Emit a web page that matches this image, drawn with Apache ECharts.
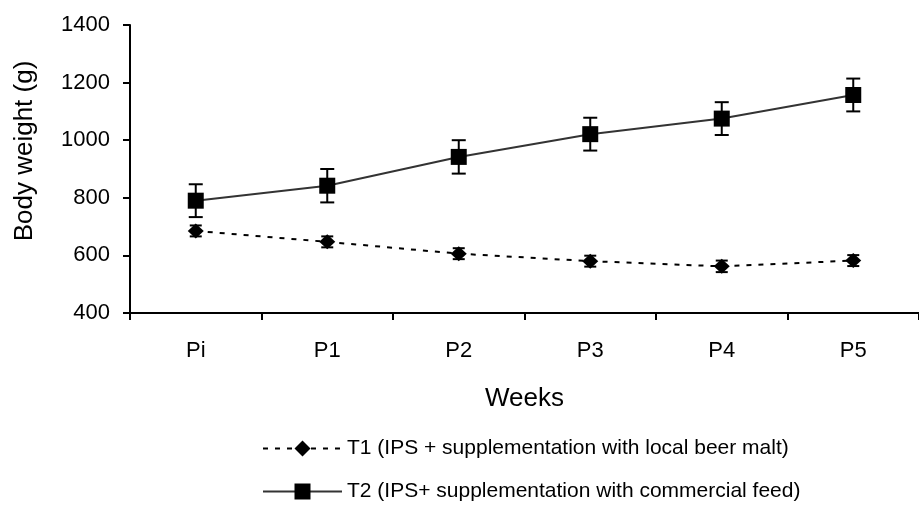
<!DOCTYPE html>
<html>
<head>
<meta charset="utf-8">
<script src="https://cdn.jsdelivr.net/npm/echarts@6/dist/echarts.min.js"></script>
<style>html,body{margin:0;padding:0;background:#fff}#c{width:919px;height:510px}</style>
</head>
<body>
<div id="c"></div>
<script>
var weeks = ['Pi', 'P1', 'P2', 'P3', 'P4', 'P5'];
var t1Name = 'T1 (IPS + supplementation with local beer malt)';
var t2Name = 'T2 (IPS+ supplementation with commercial feed)';
var t1Mean = [685, 647, 606, 580, 562, 582];
var t1Err = [19, 19, 19, 19, 20, 19];
var t2Mean = [790, 842, 942, 1021, 1075, 1157];
var t2Err = [57, 58, 58, 57, 57, 57];
var yTicks = [400, 600, 800, 1000, 1200, 1400];
var xTitle = 'Weeks';
var yTitle = 'Body weight (g)';

function errData(mean, err) {
  return mean.map(function (m, i) { return [i, m - err[i], m + err[i]]; });
}
function errRender(cap) {
  return function (params, api) {
    var x = api.value(0);
    var lo = api.coord([x, api.value(1)]);
    var hi = api.coord([x, api.value(2)]);
    var st = { stroke: '#000', lineWidth: 2 };
    return {
      type: 'group',
      children: [
        { type: 'line', shape: { x1: lo[0], y1: lo[1], x2: hi[0], y2: hi[1] }, style: st },
        { type: 'line', shape: { x1: lo[0] - cap, y1: lo[1], x2: lo[0] + cap, y2: lo[1] }, style: st },
        { type: 'line', shape: { x1: hi[0] - cap, y1: hi[1], x2: hi[0] + cap, y2: hi[1] }, style: st }
      ]
    };
  };
}

var chart = echarts.init(document.getElementById('c'), null, { renderer: 'canvas' });
var font = 'Liberation Sans, Arial, sans-serif';
function legendAt(name, top) {
  return {
    orient: 'horizontal',
    left: 262,
    top: top,
    itemWidth: 79,
    itemHeight: 20,
    padding: 0,
    textStyle: { fontSize: 21, color: '#000', fontFamily: font },
    data: [name]
  };
}
chart.setOption({
  animation: false,
  textStyle: { fontFamily: font },
  grid: { left: 130, right: -1, top: 25, bottom: 197 },
  graphic: [{
    type: 'text',
    x: 25,
    y: 151,
    rotation: Math.PI / 2,
    style: {
      text: yTitle,
      fontSize: 26,
      fontFamily: font,
      fill: '#000',
      align: 'center',
      verticalAlign: 'middle'
    }
  }],
  legend: [legendAt(t1Name, 438), legendAt(t2Name, 481)],
  xAxis: {
    type: 'category',
    data: weeks,
    boundaryGap: true,
    name: xTitle,
    nameLocation: 'middle',
    nameGap: 73,
    nameTextStyle: { fontSize: 26, color: '#000', fontFamily: font },
    axisLine: { lineStyle: { color: '#000', width: 2 } },
    axisTick: { show: true, length: 7, lineStyle: { color: '#000', width: 2 } },
    axisLabel: { fontSize: 22, color: '#000', margin: 27, fontFamily: font },
    splitLine: { show: false }
  },
  yAxis: {
    type: 'value',
    min: yTicks[0],
    max: yTicks[yTicks.length - 1],
    interval: 200,
    axisLine: { show: true, lineStyle: { color: '#000', width: 2 } },
    axisTick: { show: true, length: 7, lineStyle: { color: '#000', width: 2 } },
    axisLabel: { fontSize: 22, color: '#000', margin: 20, fontFamily: font,
      formatter: function (v) { return String(v); } },
    splitLine: { show: false }
  },
  series: [
    {
      name: t1Name,
      type: 'line',
      data: t1Mean,
      symbol: 'diamond',
      symbolSize: [16, 15],
      itemStyle: { color: '#000' },
      lineStyle: { color: '#000', width: 2, type: [5, 7] },
      z: 3
    },
    {
      name: t2Name,
      type: 'line',
      data: t2Mean,
      symbol: 'rect',
      symbolSize: 16,
      itemStyle: { color: '#000' },
      lineStyle: { color: '#333', width: 2, type: 'solid' },
      z: 3
    },
    {
      type: 'custom',
      data: errData(t1Mean, t1Err),
      renderItem: errRender(6),
      encode: { x: 0, y: [1, 2] },
      silent: true,
      z: 4
    },
    {
      type: 'custom',
      data: errData(t2Mean, t2Err),
      renderItem: errRender(7),
      encode: { x: 0, y: [1, 2] },
      silent: true,
      z: 4
    }
  ]
});
</script>
</body>
</html>
